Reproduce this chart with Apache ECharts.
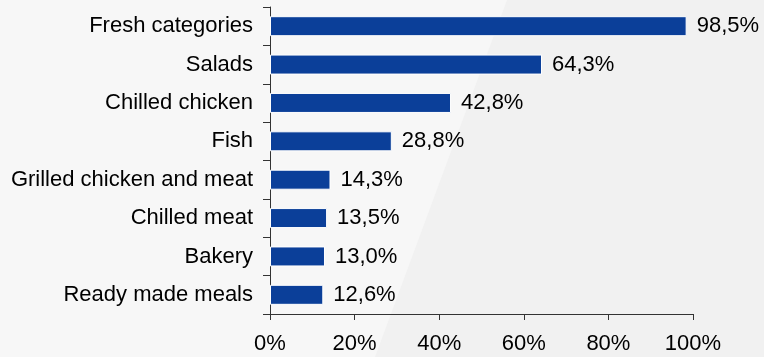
<!DOCTYPE html>
<html>
<head>
<meta charset="utf-8">
<script src="https://cdn.jsdelivr.net/npm/echarts@6/dist/echarts.min.js"></script>
<style>
  html, body { margin: 0; padding: 0; background: #f7f7f7; }
  #chart { width: 764px; height: 357px; }
</style>
</head>
<body>
<div id="chart"></div>
<script>
// Category names, top to bottom
const categories = [
  'Fresh categories',
  'Salads',
  'Chilled chicken',
  'Fish',
  'Grilled chicken and meat',
  'Chilled meat',
  'Bakery',
  'Ready made meals'
];
// Share in percent, same order as categories
const shares = [98.5, 64.3, 42.8, 28.8, 14.3, 13.5, 13.0, 12.6];
// X axis range and step (percent)
const axisMin = 0;
const axisMax = 100;
const axisStep = 20;

const fmt = v => v.toFixed(1).replace('.', ',') + '%';

const chart = echarts.init(document.getElementById('chart'), null, { renderer: 'canvas' });

chart.setOption({
  backgroundColor: '#f7f7f7',
  animation: false,
  textStyle: { fontFamily: 'Liberation Sans, Arial, sans-serif' },
  graphic: [{
    type: 'polygon',
    z: -10,
    silent: true,
    shape: { points: [[507, 0], [764, 0], [764, 357], [375, 357]] },
    style: { fill: '#f1f1f1' }
  }],
  grid: { left: 270, right: 71, top: 7, bottom: 43, containLabel: false },
  xAxis: {
    type: 'value',
    min: axisMin,
    max: axisMax,
    interval: axisStep,
    splitLine: { show: false },
    axisLine: { show: true, lineStyle: { color: '#333', width: 1 } },
    axisTick: { show: true, length: 6, lineStyle: { color: '#333' } },
    axisLabel: {
      color: '#000',
      fontSize: 22,
      margin: 19,
      formatter: v => v + '%'
    }
  },
  yAxis: {
    type: 'category',
    inverse: true,
    data: categories,
    axisLine: { show: true, lineStyle: { color: '#333', width: 1 } },
    axisTick: { show: true, length: 7, lineStyle: { color: '#333' } },
    axisLabel: { color: '#000', fontSize: 22, margin: 17 }
  },
  series: [{
    type: 'bar',
    data: shares,
    barWidth: 20,
    itemStyle: { color: '#0b3f99', borderColor: '#ffffff', borderWidth: 1 },
    label: {
      show: true,
      position: 'right',
      distance: 10,
      color: '#000',
      fontSize: 22,
      formatter: p => fmt(p.value)
    }
  }]
});
</script>
</body>
</html>
